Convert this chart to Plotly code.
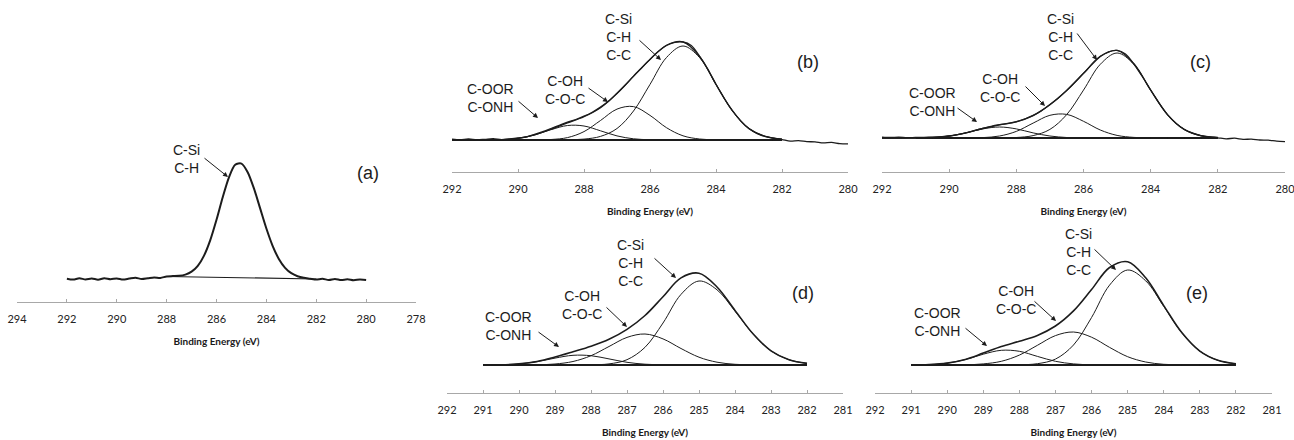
import plotly.graph_objects as go

W, H = 1294, 440

# ---------------- data (binding energy in eV, intensity in a.u.) ----------------
E_RAW = [292.0, 291.75, 291.5, 291.25, 291.0, 290.75, 290.5, 290.25, 290.0, 289.75,
         289.5, 289.25, 289.0, 288.75, 288.5, 288.25, 288.0, 287.75, 287.5, 287.25,
         287.0, 286.75, 286.5, 286.25, 286.0, 285.75, 285.5, 285.25, 285.0, 284.75,
         284.5, 284.25, 284.0, 283.75, 283.5, 283.25, 283.0, 282.75, 282.5, 282.25,
         282.0, 281.75, 281.5, 281.25, 281.0, 280.75, 280.5, 280.25, 280.0]

E_FIT_BC = [292.0, 291.5, 291.0, 290.5, 290.0, 289.5, 289.0, 288.5, 288.0, 287.5, 287.0,
            286.5, 286.0, 285.5, 285.0, 284.5, 284.0, 283.5, 283.0, 282.5, 282.0]
E_FIT_DE = [291.0, 290.5, 290.0, 289.5, 289.0, 288.5, 288.0, 287.5, 287.0,
            286.5, 286.0, 285.5, 285.0, 284.5, 284.0, 283.5, 283.0, 282.5, 282.0]

# (a) raw spectrum + linear background
raw_a = [0.3, -0.6, 0.7, -0.4, 0.5, -0.7, 0.8, -0.2, 0.6, -0.5,
         0.4, 1.2, 0.0, 0.8, 1.6, 1.1, 2.6, 2.9, 3.2, 4.4,
         7.3, 13.1, 23.4, 38.9, 59.2, 81.8, 101.7, 114.2, 115.4, 106.8,
         90.6, 70.6, 50.5, 33.2, 20.1, 11.2, 5.8, 2.8, 1.2, 0.3,
         -0.6, 0.3, -1.0, 0.0, -1.1, -0.2, -1.2, -0.5, -0.9]
bg_a_E = [288.0, 282.0]
bg_a = [2.5, 0.0]

# (b)
raw_b = [0.8, 0.2, 1.0, 0.1, 0.7, 1.4, 0.4, 1.1, 2.0, 3.2,
         5.6, 8.4, 11.5, 14.6, 17.8, 20.5, 23.8, 27.8, 32.9, 39.0,
         46.8, 55.0, 63.9, 72.3, 80.6, 88.4, 94.5, 97.6, 98.0, 94.4,
         83.9, 71.0, 55.5, 41.5, 29.3, 19.0, 11.2, 6.4, 3.3, 1.6,
         0.4, -1.2, -0.6, -1.6, -1.9, -2.9, -2.4, -3.6, -3.8]
env_b = [0, 0, 0.1, 0.4, 1.6, 5.1, 10.8, 17.1, 23.3, 32.3, 46.5,
         63.6, 80.5, 94.8, 98.2, 83.5, 55.8, 29.0, 11.5, 3.6, 0.9]
csi_b = [0, 0, 0, 0, 0, 0, 0, 0.2, 0.9, 3.6, 11.5,
         29.0, 55.6, 82.5, 94.0, 82.5, 55.6, 29.0, 11.5, 3.6, 0.9]
coh_b = [0, 0, 0, 0, 0, 0.07, 0.5, 2.4, 8.4, 19.5, 30.9,
         33.4, 24.6, 12.3, 4.2, 1.0, 0.16, 0, 0, 0, 0]
coor_b = [0, 0, 0.06, 0.36, 1.6, 5.0, 10.3, 14.5, 14.0, 9.2, 4.1,
          1.2, 0.26, 0, 0, 0, 0, 0, 0, 0, 0]
bg_b_E = [292.0, 282.0]
bg_b = [0.0, 0.0]

# (c)
raw_c = [0.9, 0.5, 0.8, 0.3, 0.6, 0.7, 0.9, 1.2, 2.0, 3.4,
         5.3, 7.4, 9.6, 11.7, 13.3, 14.6, 16.3, 19.0, 22.6, 27.4,
         33.4, 40.0, 47.6, 56.0, 64.6, 73.4, 81.5, 86.2, 87.6, 84.0,
         74.0, 61.5, 47.8, 34.8, 23.3, 14.8, 8.5, 4.6, 2.2, 0.9,
         0.2, -0.8, -0.2, -1.3, -1.2, -2.0, -2.2, -3.1, -3.6]
env_c = [0, 0, 0.1, 0.5, 2.0, 5.2, 9.5, 13.1, 16.2, 22.4, 33.3,
         47.5, 64.7, 81.7, 87.6, 74.3, 48.0, 23.4, 8.6, 2.4, 0.5]
csi_c = [0, 0, 0, 0, 0, 0, 0, 0.1, 0.5, 2.4, 8.6,
         23.4, 47.9, 73.7, 85.0, 73.7, 47.9, 23.4, 8.6, 2.4, 0.5]
coh_c = [0, 0, 0, 0, 0, 0.06, 0.4, 2.0, 6.6, 14.9, 22.7,
         23.6, 16.7, 8.0, 2.6, 0.6, 0.1, 0, 0, 0, 0]
coor_c = [0, 0, 0.1, 0.5, 2.0, 5.1, 9.1, 11.0, 9.1, 5.1, 2.0,
          0.5, 0.1, 0, 0, 0, 0, 0, 0, 0, 0]
bg_c_E = [291.0, 282.0]
bg_c = [0.0, 0.0]

# (d)
env_d = [0.04, 0.2, 1.2, 3.5, 7.9, 13.2, 18.8, 25.7, 35.6, 49.5,
         68.3, 87.1, 91.8, 78.0, 54.6, 31.2, 14.2, 5.3, 1.6]
csi_d = [0, 0, 0, 0, 0, 0, 0.2, 1.1, 5.3, 17.7,
         42.0, 70.6, 84.0, 75.2, 53.9, 31.0, 14.2, 5.3, 1.6]
coh_d = [0, 0, 0.05, 0.2, 1.0, 3.5, 9.3, 18.5, 27.6, 31.0,
         26.1, 16.5, 7.8, 2.8, 0.7, 0.15, 0, 0, 0]
coor_d = [0.04, 0.2, 1.1, 3.3, 6.9, 9.7, 9.3, 6.1, 2.7, 0.8,
          0.2, 0, 0, 0, 0, 0, 0, 0, 0]
bg_d_E = [291.0, 282.0]
bg_d = [0.0, 0.0]

# (e)
env_e = [0.07, 0.43, 1.9, 5.6, 11.9, 18.4, 23.8, 29.6, 39.0, 54.1,
         75.5, 97.5, 103.3, 87.2, 59.4, 32.4, 13.9, 4.7, 1.2]
csi_e = [0, 0, 0, 0, 0, 0, 0.2, 1.3, 5.9, 20.0,
         47.5, 79.9, 95.0, 84.2, 58.7, 32.2, 13.9, 4.7, 1.2]
coh_e = [0, 0, 0.04, 0.2, 1.1, 3.7, 9.9, 19.7, 29.4, 33.0,
         27.8, 17.6, 8.3, 3.0, 0.7, 0.2, 0, 0, 0]
coor_e = [0.07, 0.43, 1.85, 5.4, 10.8, 14.7, 13.7, 8.6, 3.7, 1.1,
          0.2, 0, 0, 0, 0, 0, 0, 0, 0]
bg_e_E = [291.0, 282.0]
bg_e = [0.0, 0.0]

TICKS_A = [294, 292, 290, 288, 286, 284, 282, 280, 278]
TICKS_BC = [292, 290, 288, 286, 284, 282, 280]
TICKS_DE = [292, 291, 290, 289, 288, 287, 286, 285, 284, 283, 282, 281]

AXIS_TITLE = "Binding Energy (eV)"
PANEL_LABELS = ["(a)", "(b)", "(c)", "(d)", "(e)"]
LBL_CSI2 = "C-Si<br>C-H"
LBL_CSI3 = "C-Si<br>C-H<br>C-C"
LBL_COH = "C-OH<br>C-O-C"
LBL_COOR = "C-OOR<br>C-ONH"

# ---------------- layout geometry (pixels) ----------------
GEOM = [
    dict(x0=17, x1=416, top=130, axis=302, base=279, xr=(294, 278), ticks=TICKS_A),
    dict(x0=452, x1=848, top=0, axis=172, base=140, xr=(292, 280), ticks=TICKS_BC),
    dict(x0=882, x1=1285, top=0, axis=172, base=138, xr=(292, 280), ticks=TICKS_BC),
    dict(x0=447, x1=843, top=220, axis=393, base=365, xr=(292, 281), ticks=TICKS_DE),
    dict(x0=875, x1=1272, top=220, axis=393, base=365, xr=(292, 281), ticks=TICKS_DE),
]

INK = "#1c1c1c"
AXC = "#a8a8a8"

fig = go.Figure()


def ax_names(i):
    n = "" if i == 0 else str(i + 1)
    return "x" + n, "y" + n


def add_line(i, x, y, width, smooth=1.0):
    xa, ya = ax_names(i)
    fig.add_trace(go.Scatter(
        x=x, y=y, mode="lines", xaxis=xa, yaxis=ya, showlegend=False,
        hoverinfo="skip",
        line=dict(color=INK, width=width, shape="spline", smoothing=smooth)))


# (a)
add_line(0, bg_a_E, bg_a, 1.2)
add_line(0, E_RAW, raw_a, 2.0, 0.8)
# (b)
add_line(1, bg_b_E, bg_b, 1.8)
for comp in (coor_b, coh_b, csi_b):
    add_line(1, E_FIT_BC, comp, 1.0)
add_line(1, E_FIT_BC, env_b, 1.2)
add_line(1, E_RAW, raw_b, 1.3, 0.8)
# (c)
add_line(2, bg_c_E, bg_c, 1.8)
for comp in (coor_c, coh_c, csi_c):
    add_line(2, E_FIT_BC, comp, 1.0)
add_line(2, E_FIT_BC, env_c, 1.3)
add_line(2, E_RAW, raw_c, 1.3, 0.8)
# (d)
add_line(3, bg_d_E, bg_d, 2.2)
for comp in (coor_d, coh_d, csi_d):
    add_line(3, E_FIT_DE, comp, 1.0)
add_line(3, E_FIT_DE, env_d, 1.6)
# (e)
add_line(4, bg_e_E, bg_e, 2.2)
for comp in (coor_e, coh_e, csi_e):
    add_line(4, E_FIT_DE, comp, 1.0)
add_line(4, E_FIT_DE, env_e, 1.6)

layout = dict(
    width=W, height=H, margin=dict(l=0, r=0, t=0, b=0),
    paper_bgcolor="white", plot_bgcolor="white",
    font=dict(family="Liberation Sans", color=INK),
    showlegend=False,
)

for i, g in enumerate(GEOM):
    xa, ya = ax_names(i)
    xkey = "xaxis" + xa[1:]
    ykey = "yaxis" + ya[1:]
    layout[xkey] = dict(
        domain=[g["x0"] / W, g["x1"] / W], range=list(g["xr"]), anchor=ya,
        tickvals=g["ticks"], ticktext=[str(t) for t in g["ticks"]],
        showline=True, linecolor=AXC, linewidth=1,
        ticks="inside", ticklen=3, tickcolor=AXC, tickwidth=1,
        showgrid=False, zeroline=False, automargin=False, fixedrange=True,
        tickfont=dict(family="Lato", size=11, color="#222222"),
        ticklabelstandoff=7, ticklabeloverflow="allow",
        title=dict(text=AXIS_TITLE, standoff=13,
                   font=dict(family="Lato", size=10, color="#1a1a1a", weight="bold")),
    )
    below = g["axis"] - g["base"]
    layout[ykey] = dict(
        domain=[1 - g["axis"] / H, 1 - g["top"] / H],
        range=[-below, (g["axis"] - g["top"]) - below],
        anchor=xa, visible=False, fixedrange=True, showgrid=False, zeroline=False,
    )

fig.update_layout(**layout)

# ---------------- annotations (pixel positions) ----------------
TEXTS = [
    (187, 159, LBL_CSI2),
    (618, 37, LBL_CSI3), (565, 90, LBL_COH), (490, 98, LBL_COOR),
    (1060, 37, LBL_CSI3), (1000, 88, LBL_COH), (932, 102, LBL_COOR),
    (630, 263, LBL_CSI3), (582, 305, LBL_COH), (508, 326, LBL_COOR),
    (1078, 252, LBL_CSI3), (1016, 300, LBL_COH), (937, 322, LBL_COOR),
]
ARROWS = [  # tail x, tail y, tip x, tip y
    (203, 157, 228, 177),
    (638, 39, 661, 60), (587, 87, 608, 102), (517, 100, 538, 118),
    (1076, 32, 1097, 60), (1024, 85, 1045, 106), (956, 107, 977, 122),
    (653, 257, 676, 278), (605, 306, 627, 327), (537, 331, 559, 347),
    (1093, 248, 1116, 270), (1033, 300, 1056, 321), (964, 327, 987, 346),
]
LABEL_POS = [(368, 173), (808, 62), (1200, 62), (803, 293), (1197, 293)]

ann = []
for (x, y, t) in TEXTS:
    ann.append(dict(x=x / W, y=1 - y / H, xref="paper", yref="paper", text=t,
                    showarrow=False, xanchor="center", yanchor="middle", align="center",
                    font=dict(family="Liberation Sans", size=14, color=INK)))
for (tx, ty, hx, hy) in ARROWS:
    ann.append(dict(x=hx / W, y=1 - hy / H, xref="paper", yref="paper", text="",
                    showarrow=True, ax=tx - hx, ay=ty - hy, axref="pixel", ayref="pixel",
                    arrowhead=2, arrowsize=1, arrowwidth=1, arrowcolor=INK, standoff=0))
for (x, y), t in zip(LABEL_POS, PANEL_LABELS):
    ann.append(dict(x=x / W, y=1 - y / H, xref="paper", yref="paper", text=t,
                    showarrow=False, xanchor="center", yanchor="middle",
                    font=dict(family="Liberation Sans", size=18, color=INK)))
fig.update_layout(annotations=ann)

fig.write_html("out.html")
